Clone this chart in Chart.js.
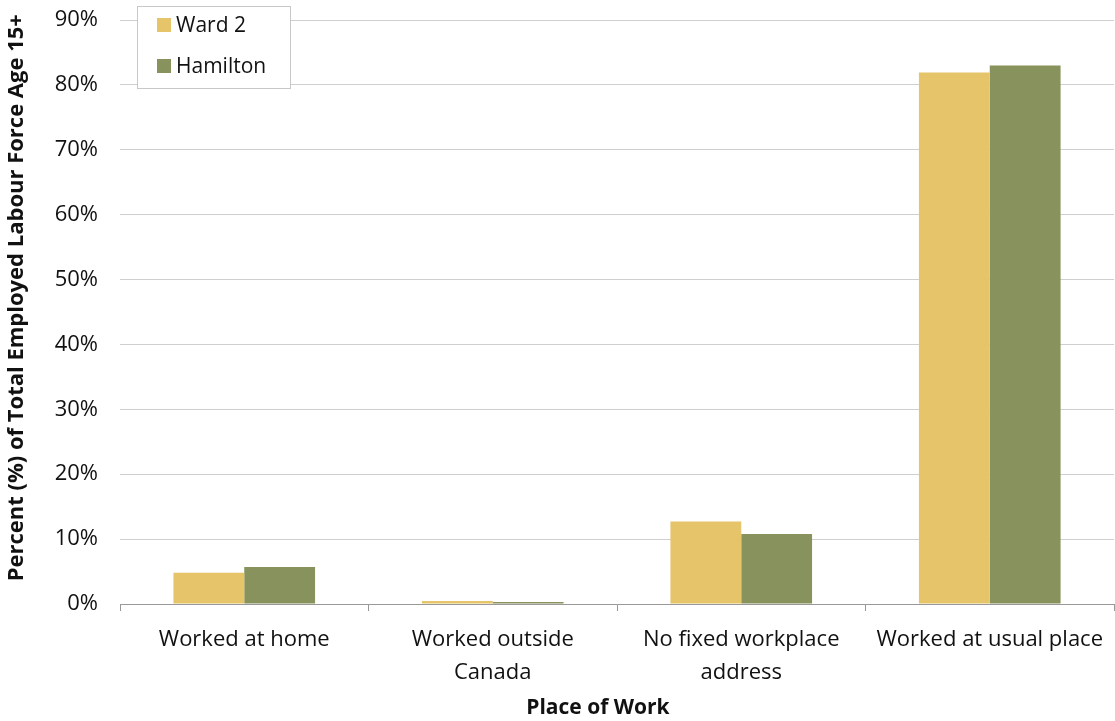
<!DOCTYPE html>
<html><head><meta charset="utf-8">
<script src="https://cdn.jsdelivr.net/npm/chart.js@4.4.1/dist/chart.umd.min.js"></script>
<style>html,body{margin:0;padding:0;background:#fff}#wrap{width:1115px;height:721px;position:relative}</style>
</head><body><div id="wrap"><canvas id="c" width="1115" height="721"></canvas></div>
<script>
const categories = [["Worked at home"], ["Worked outside", "Canada"], ["No fixed workplace", "address"], ["Worked at usual place"]];
const ward2 = [4.8, 0.45, 12.7, 81.9];
const hamilton = [5.7, 0.3, 10.8, 83.0];
const seriesNames = ["Ward 2", "Hamilton"];
const seriesColors = ["#E6C469", "#87925C"];
const yTicks = { min: 0, max: 90, step: 10 };
const FONT = "'Open Sans', sans-serif";

const legendBox = {
  id: 'legendBox',
  afterDraw(chart) {
    const ctx = chart.ctx;
    ctx.save();
    ctx.fillStyle = '#fff';
    ctx.fillRect(137, 6, 153, 82);
    ctx.strokeStyle = '#c8c8c8';
    ctx.lineWidth = 1;
    ctx.strokeRect(137.5, 6.5, 153, 82);
    chart.data.datasets.forEach((ds, i) => {
      const cy = 25 + i * 41;
      ctx.fillStyle = ds.backgroundColor;
      ctx.fillRect(157, cy - 7, 14, 14);
      ctx.fillStyle = '#111';
      ctx.font = `21px ${FONT}`;
      ctx.textBaseline = 'middle';
      ctx.fillText(ds.label, 176, cy + 1);
    });
    ctx.restore();
  }
};

new Chart(document.getElementById('c'), {
  type: 'bar',
  data: {
    labels: categories,
    datasets: [
      { label: seriesNames[0], data: ward2, backgroundColor: seriesColors[0] },
      { label: seriesNames[1], data: hamilton, backgroundColor: seriesColors[1] }
    ]
  },
  options: {
    responsive: false,
    animation: false,
    devicePixelRatio: 1,
    layout: { padding: { top: 20, right: 1, left: 0, bottom: 0 } },
    plugins: { legend: { display: false }, tooltip: { enabled: false } },
    datasets: { bar: { categoryPercentage: 0.57, barPercentage: 1.0 } },
    scales: {
      x: {
        grid: { offset: true, drawOnChartArea: false, drawTicks: true, tickLength: 7, color: '#999' },
        border: { display: true, color: '#999', width: 1 },
        ticks: { color: '#111', font: { family: FONT, size: 22, lineHeight: 1.5 }, padding: 12, maxRotation: 0, autoSkip: false },
        title: { display: true, text: 'Place of Work       ', color: '#111', font: { family: FONT, size: 21, weight: 'bold' }, padding: { top: 4, bottom: 0 } },
        afterFit(s) { s.height = 117; s.paddingLeft = 0; s.paddingRight = 0; }
      },
      y: {
        min: yTicks.min, max: yTicks.max,
        grid: { color: '#cfcfcf', lineWidth: 1, drawTicks: false },
        border: { display: false },
        ticks: { stepSize: yTicks.step, color: '#111', font: { family: FONT, size: 22 }, padding: 22, callback: v => v + '%' },
        title: { display: true, text: '     Percent (%) of Total Employed Labour Force Age 15+', color: '#111', font: { family: FONT, size: 22, weight: 'bold' }, padding: { top: 4, bottom: 8 } },
        afterFit(s) { s.width = 120; s.paddingTop = 0; s.paddingBottom = 0; }
      }
    }
  },
  plugins: [legendBox]
});
</script></body></html>
